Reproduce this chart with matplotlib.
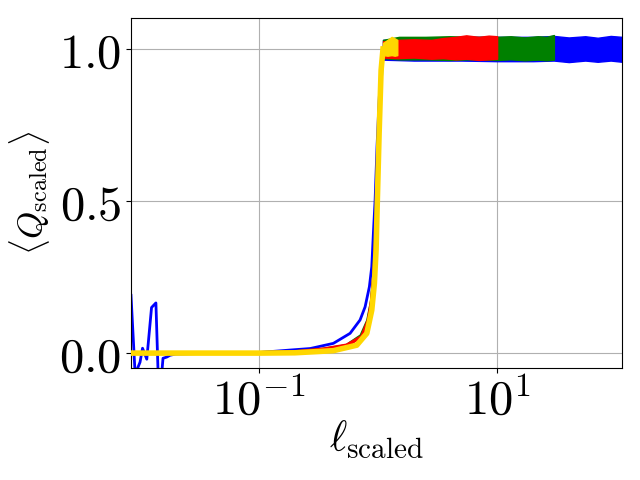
import matplotlib
matplotlib.use("Agg")
import matplotlib.pyplot as plt
from matplotlib.ticker import NullLocator, FixedLocator

plt.rcParams['mathtext.fontset'] = 'cm'
plt.rcParams['font.family'] = ['DejaVu Serif']

# ---- data ----
# blue: low-l fluctuations + transition curve
blue_l = [0.0084, 0.0091, 0.0100, 0.0105, 0.0114, 0.0125, 0.0136, 0.0142, 0.0152,
          0.0156, 0.0168, 0.0179, 0.02, 0.05, 0.1, 0.182, 0.269, 0.421, 0.582,
          0.706, 0.778, 0.845, 0.885, 0.913, 0.944, 0.98, 1.02, 1.06, 1.10]
blue_q = [0.19, -0.07, -0.03, 0.016, -0.02, 0.15, 0.165, -0.07, -0.07,
          -0.017, -0.013, -0.007, -0.003, 0.0, 0.002, 0.010, 0.015, 0.032, 0.065,
          0.109, 0.152, 0.218, 0.284, 0.394, 0.503, 0.68, 0.83, 0.95, 1.0]

green_l = [0.0084, 0.05, 0.1, 0.2, 0.33, 0.54, 0.72, 0.82, 0.88, 0.92, 0.955, 0.975,
           1.0, 1.04, 1.08, 1.10]
green_q = [0.0, 0.0, 0.001, 0.004, 0.011, 0.024, 0.057, 0.107, 0.168, 0.25, 0.38, 0.5,
           0.66, 0.84, 0.96, 1.0]

red_l = [0.0084, 0.05, 0.1, 0.2, 0.347, 0.546, 0.73, 0.83, 0.885, 0.925, 0.962,
         0.985, 1.02, 1.06, 1.10]
red_q = [0.0, 0.0, 0.001, 0.004, 0.013, 0.026, 0.054, 0.109, 0.174, 0.262, 0.394,
         0.52, 0.72, 0.92, 1.0]

yellow_l = [0.0084, 0.05, 0.1, 0.2, 0.421, 0.662, 0.804, 0.885, 0.931, 0.962, 0.986,
            1.02, 1.06, 1.10]
yellow_q = [0.0, 0.0, 0.0, 0.001, 0.008, 0.026, 0.065, 0.141, 0.229, 0.339, 0.503,
            0.72, 0.93, 1.0]

# noisy plateau envelopes (upper / lower edge of the band)
blue_band_l = [1.10, 2.0, 5.0, 10.0, 20.0, 30.0, 40.0, 55.0, 70.0, 90.0, 112.0]
blue_band_hi = [1.03, 1.035, 1.04, 1.04, 1.04, 1.043, 1.038, 1.042, 1.037, 1.043, 1.04]
blue_band_lo = [0.965, 0.962, 0.962, 0.96, 0.96, 0.962, 0.957, 0.962, 0.958, 0.962, 0.958]

green_band_l = [1.10, 1.5, 2.5, 4.0, 6.0, 10.0, 13.0, 17.0, 22.0, 26.0, 30.0]
green_band_hi = [1.03, 1.04, 1.04, 1.042, 1.04, 1.04, 1.042, 1.038, 1.042, 1.04, 1.046]
green_band_lo = [0.97, 0.966, 0.966, 0.964, 0.966, 0.964, 0.966, 0.963, 0.965, 0.963, 0.965]

red_band_l = [1.10, 1.45, 2.0, 2.8, 3.5, 4.5, 5.5, 7.0, 8.5, 10.0]
red_band_hi = [1.025, 1.03, 1.032, 1.03, 1.036, 1.04, 1.045, 1.04, 1.044, 1.042]
red_band_lo = [0.972, 0.97, 0.972, 0.968, 0.97, 0.966, 0.968, 0.964, 0.966, 0.968]

yellow_band_l = [1.10, 1.2, 1.3, 1.38, 1.45]
yellow_band_hi = [1.02, 1.03, 1.04, 1.035, 1.03]
yellow_band_lo = [0.98, 0.978, 0.98, 0.978, 0.98]

x_ticks = [0.1, 10]
x_tick_labels = [r'$10^{-1}$', r'$10^{1}$']
y_ticks = [0.0, 0.5, 1.0]
y_tick_labels = [r'$0.0$', r'$0.5$', r'$1.0$']

# ---- plot ----
fig = plt.figure(figsize=(6.4, 4.8), dpi=100)
ax = fig.add_axes([131 / 640, 1 - 368 / 480, 491 / 640, 350 / 480])

series = [
    (blue_l, blue_q, blue_band_l, blue_band_hi, blue_band_lo, 'blue', 2.0),
    (green_l, green_q, green_band_l, green_band_hi, green_band_lo, 'green', 2.5),
    (red_l, red_q, red_band_l, red_band_hi, red_band_lo, 'red', 2.5),
    (yellow_l, yellow_q, yellow_band_l, yellow_band_hi, yellow_band_lo, 'gold', 4.0),
]
for i, (l, q, bl, bh, blo, c, lw) in enumerate(series):
    ax.plot(l, q, color=c, lw=lw, zorder=2 + i)
    ax.fill_between(bl, blo, bh, color=c, lw=1.0, edgecolor=c, zorder=2 + i)

ax.set_xscale('log')
ax.set_xlim(0.0084, 112)
ax.set_ylim(-0.049, 1.102)
ax.xaxis.set_major_locator(FixedLocator(x_ticks))
ax.xaxis.set_minor_locator(NullLocator())
ax.set_xticklabels(x_tick_labels)
ax.set_yticks(y_ticks)
ax.set_yticklabels(y_tick_labels)
ax.tick_params(labelsize=35)
ax.grid(True, color='#b0b0b0', lw=0.8)
ax.set_axisbelow(True)
ax.set_xlabel(r'$\ell_{\mathrm{scaled}}$', fontsize=30)
ax.set_ylabel(r'$\langle Q_{\mathrm{scaled}}\rangle$', fontsize=25)
ax.xaxis.set_label_coords(0.5, -0.145)
ax.yaxis.set_label_coords(-0.16, 0.5)

fig.savefig('out.png', dpi=100)
